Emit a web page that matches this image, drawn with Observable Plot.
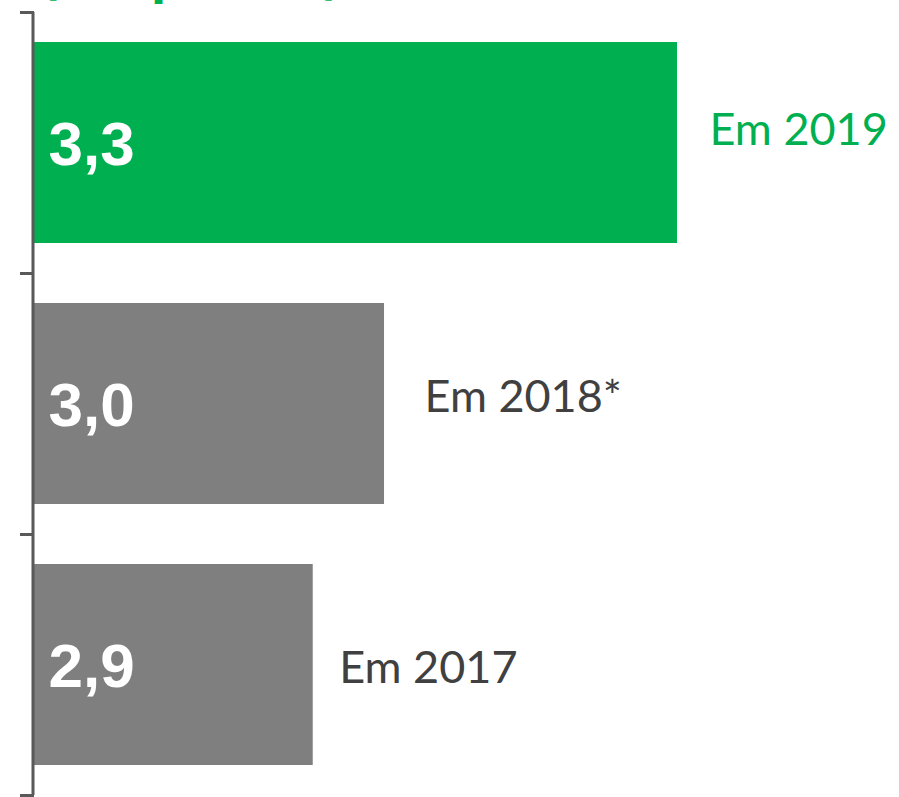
<!DOCTYPE html>
<html>
<head>
<meta charset="utf-8">
<script src="https://cdn.jsdelivr.net/npm/d3@7"></script>
<script src="https://cdn.jsdelivr.net/npm/@observablehq/plot@0.6"></script>
<style>
  html, body { margin: 0; padding: 0; background: #fff; overflow: hidden; }
  #wrap { position: relative; width: 899px; height: 797px; }
  #title { position: absolute; left: 40px; top: -42px; font: bold 44px "DejaVu Sans", sans-serif; line-height: 44px; color: #00B050; white-space: nowrap; }
  #chart { position: absolute; left: 0; top: 0; }
</style>
</head>
<body>
<div id="wrap">
  <div id="title">(em pontos)</div>
  <div id="chart"></div>
</div>
<script>
// Data
const categories = ["Em 2019", "Em 2018*", "Em 2017"];
const values = [3.30, 3.00, 2.927];
const valueLabels = ["3,3", "3,0", "2,9"];

// Styles / layout
const GREEN = "#00B050", GRAY = "#7F7F7F", TEXT_GRAY = "#404040", AXIS = "#595959";
const barFill = [GREEN, GRAY, GRAY];
const labelFill = [GREEN, TEXT_GRAY, TEXT_GRAY];
const labelOffsets = [{dx: 32, dy: -12}, {dx: 40, dy: -6}, {dx: 26, dy: 4}];

const width = 899, height = 797, marginTop = 12, marginBottom = 2, marginLeft = 34;
const xMin = 2.6416, xMax = 3.5273;
const k = (width - marginLeft) / (xMax - xMin);
const step = (height - marginTop - marginBottom) / categories.length;

const rows = categories.map((c, i) => ({category: c, value: values[i], label: valueLabels[i], fill: barFill[i], labelFill: labelFill[i], i}));

const yearMarks = rows.map(r => Plot.text([r], {
  x: "value", y: "category", text: "category",
  textAnchor: "start", lineAnchor: "middle",
  dx: labelOffsets[r.i].dx, dy: labelOffsets[r.i].dy,
  fill: r.labelFill, fontSize: 45, fontWeight: 400,
  fontFamily: "Lato, 'DejaVu Sans', sans-serif"
}));

const chart = Plot.plot({
  width, height, marginTop, marginBottom, marginLeft, marginRight: 0,
  x: {domain: [xMin, xMax], axis: null},
  y: {domain: categories, axis: null, paddingInner: 0.23, paddingOuter: 0.115},
  style: {background: "transparent"},
  marks: [
    Plot.barX(rows, {y: "category", x1: () => xMin, x2: "value", fill: "fill"}),
    Plot.text(rows, {
      x: () => xMin, y: "category", text: "label",
      textAnchor: "start", lineAnchor: "middle", dx: 14, dy: 2,
      fill: "white", fontSize: 62, fontWeight: "bold",
      fontFamily: "'Liberation Sans', Arial, sans-serif"
    }),
    ...yearMarks,
    Plot.ruleX([xMin], {stroke: AXIS, strokeWidth: 3, dx: -1.5}),
    Plot.ruleY(categories, {y: d => d, x1: xMin - 14 / k, x2: xMin, dy: -step / 2, stroke: AXIS, strokeWidth: 3}),
    Plot.ruleY(categories.slice(-1), {y: d => d, x1: xMin - 14 / k, x2: xMin, dy: step / 2, stroke: AXIS, strokeWidth: 3})
  ]
});
document.getElementById("chart").appendChild(chart);
</script>
</body>
</html>
